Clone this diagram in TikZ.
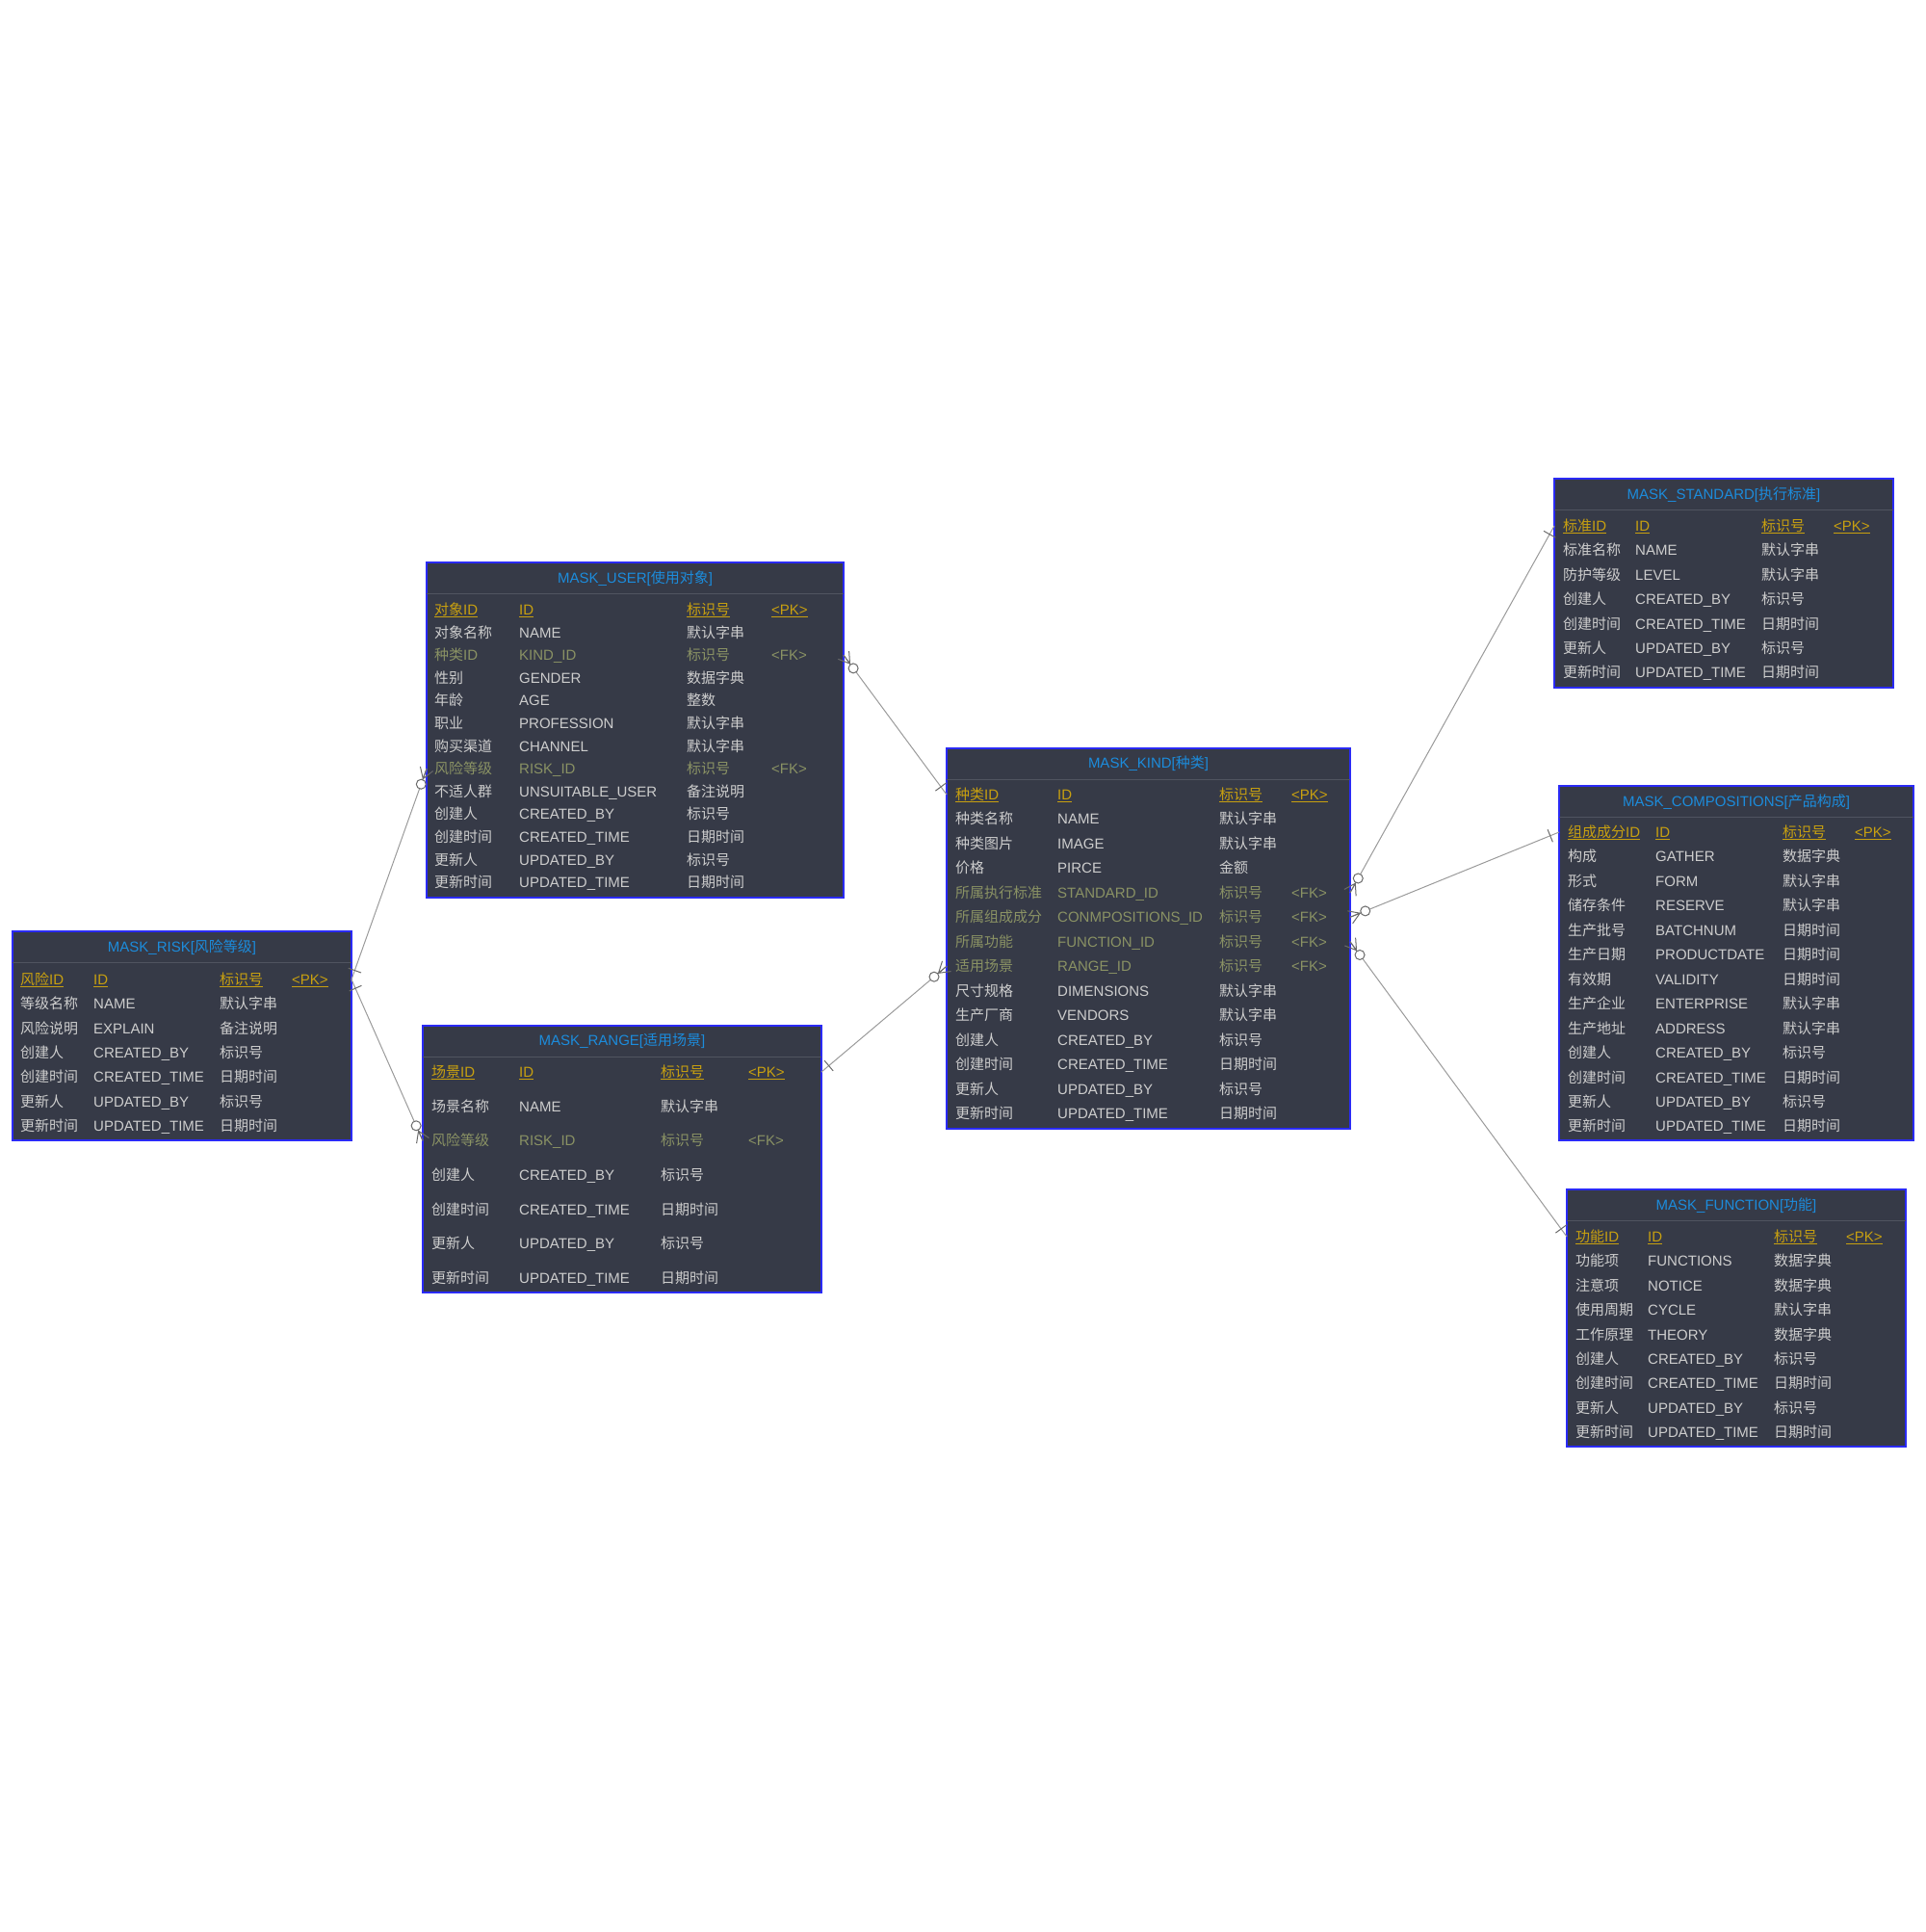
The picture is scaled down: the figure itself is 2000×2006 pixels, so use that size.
\documentclass[tikz,border=0pt]{standalone}
\usepackage{fontspec}
\setmainfont{Liberation Sans}
\newfontfamily\latinfont{Liberation Sans}
\newfontfamily\cjkfont{Noto Sans CJK SC}
\usetikzlibrary{calc}

% ideographs are set in the CJK font, everything else in Liberation Sans
\newXeTeXintercharclass\cjkclass
\newcount\cjkcode
\cjkcode="4E00
\loop\ifnum\cjkcode<"A000
  \XeTeXcharclass\cjkcode=\cjkclass
  \advance\cjkcode by 1
\repeat
\XeTeXinterchartoks 0 \cjkclass = {\cjkfont}
\XeTeXinterchartoks 4095 \cjkclass = {\cjkfont}
\XeTeXinterchartoks \cjkclass 0 = {\latinfont}
\XeTeXinterchartokenstate=1

\definecolor{tblbg}{HTML}{363A47}
\definecolor{tblborder}{HTML}{2A2AF5}
\definecolor{ttltxt}{HTML}{1C8CDC}
\definecolor{pktxt}{HTML}{C8A010}
\definecolor{fktxt}{HTML}{8A9264}
\definecolor{rowtxt}{HTML}{CDCDCD}
\definecolor{sepgray}{HTML}{505460}
\definecolor{relgray}{HTML}{9A9A9A}
\definecolor{markgray}{HTML}{6A6A6A}

% zero-or-many end (at #1) and one end (at #1) of a relation towards #2
\newcommand\manyend[2]{%
  \draw[endmark] (#1) -- ($(#1)!11pt!(#2)$) -- ($(#1)!7pt!90:(#2)$)
    ($(#1)!11pt!(#2)$) -- ($(#1)!7pt!-90:(#2)$);
  \draw[endmark, fill=white] ($(#1)!17pt!(#2)$) circle (5pt);}
\newcommand\oneend[2]{%
  \draw[endmark] ($(#1)!10pt!(#2)!7pt!90:(#2)$) -- ($(#1)!10pt!(#2)!7pt!-90:(#2)$);}

\begin{document}
\begin{tikzpicture}[x=1pt, y=-1pt,
    tbl/.style={draw=tblborder, line width=1.5pt, fill=tblbg, anchor=north west, inner sep=0pt, outer sep=0pt},
    ttl/.style={anchor=north, inner sep=0pt, outer sep=0pt, minimum height=32.5pt, text=ttltxt, font=\fontsize{15}{18}\selectfont},
    sepline/.style={draw=sepgray, line width=1.5pt},
    cell/.style={anchor=west, inner sep=0pt, text height=14pt, text depth=3pt, font=\fontsize{15}{18}\selectfont},
    plainrow/.style={cell, text=rowtxt},
    fkrow/.style={cell, text=fktxt},
    pkrow/.style={cell, text=pktxt, append after command={([yshift=1pt]\tikzlastnode.south west) edge[draw=pktxt, line width=1pt] ([yshift=1pt]\tikzlastnode.south east)}},
    rel/.style={draw=relgray, line width=1pt},
    endmark/.style={draw=markgray, line width=1pt}]
\useasboundingbox (0,0) rectangle (2000,2006);

% MASK_USER
\node[tbl, minimum width=433pt, minimum height=348pt] (user) at (443,584) {};
\node[ttl, minimum width=433pt] (user-t) at (user.north) {MASK\_USER[使用对象]};
\draw[sepline] (user-t.south west) -- (user-t.south east);
\foreach \f/\n/\k/\m/\s [count=\i from 0] in {对象ID/ID/标识号/<PK>/pkrow, 对象名称/NAME/默认字串//plainrow,
    种类ID/KIND\_ID/标识号/<FK>/fkrow, 性别/GENDER/数据字典//plainrow, 年龄/AGE/整数//plainrow,
    职业/PROFESSION/默认字串//plainrow, 购买渠道/CHANNEL/默认字串//plainrow, 风险等级/RISK\_ID/标识号/<FK>/fkrow,
    不适人群/UNSUITABLE\_USER/备注说明//plainrow, 创建人/CREATED\_BY/标识号//plainrow,
    创建时间/CREATED\_TIME/日期时间//plainrow, 更新人/UPDATED\_BY/标识号//plainrow, 更新时间/UPDATED\_TIME/日期时间//plainrow}{
  \node[\s] (user-f\i) at (451,633+23.6*\i) {\f};
  \node[\s] (user-n\i) at (539,633+23.6*\i) {\n};
  \node[\s] (user-k\i) at (713,633+23.6*\i) {\k};
  \node[\s] (user-m\i) at (801,633+23.6*\i) {\m};
}

% MASK_KIND
\node[tbl, minimum width=419pt, minimum height=395pt] (kind) at (983,777) {};
\node[ttl, minimum width=419pt] (kind-t) at (kind.north) {MASK\_KIND[种类]};
\draw[sepline] (kind-t.south west) -- (kind-t.south east);
\foreach \f/\n/\k/\m/\s [count=\i from 0] in {种类ID/ID/标识号/<PK>/pkrow, 种类名称/NAME/默认字串//plainrow,
    种类图片/IMAGE/默认字串//plainrow, 价格/PIRCE/金额//plainrow, 所属执行标准/STANDARD\_ID/标识号/<FK>/fkrow,
    所属组成成分/CONMPOSITIONS\_ID/标识号/<FK>/fkrow, 所属功能/FUNCTION\_ID/标识号/<FK>/fkrow,
    适用场景/RANGE\_ID/标识号/<FK>/fkrow, 尺寸规格/DIMENSIONS/默认字串//plainrow, 生产厂商/VENDORS/默认字串//plainrow,
    创建人/CREATED\_BY/标识号//plainrow, 创建时间/CREATED\_TIME/日期时间//plainrow,
    更新人/UPDATED\_BY/标识号//plainrow, 更新时间/UPDATED\_TIME/日期时间//plainrow}{
  \node[\s] (kind-f\i) at (992,825+25.46*\i) {\f};
  \node[\s] (kind-n\i) at (1098,825+25.46*\i) {\n};
  \node[\s] (kind-k\i) at (1266,825+25.46*\i) {\k};
  \node[\s] (kind-m\i) at (1341,825+25.46*\i) {\m};
}

% MASK_RISK
\node[tbl, minimum width=352pt, minimum height=217pt] (risk) at (13,967) {};
\node[ttl, minimum width=352pt] (risk-t) at (risk.north) {MASK\_RISK[风险等级]};
\draw[sepline] (risk-t.south west) -- (risk-t.south east);
\foreach \f/\n/\k/\m/\s [count=\i from 0] in {风险ID/ID/标识号/<PK>/pkrow, 等级名称/NAME/默认字串//plainrow,
    风险说明/EXPLAIN/备注说明//plainrow, 创建人/CREATED\_BY/标识号//plainrow, 创建时间/CREATED\_TIME/日期时间//plainrow,
    更新人/UPDATED\_BY/标识号//plainrow, 更新时间/UPDATED\_TIME/日期时间//plainrow}{
  \node[\s] (risk-f\i) at (21,1017+25.3*\i) {\f};
  \node[\s] (risk-n\i) at (97,1017+25.3*\i) {\n};
  \node[\s] (risk-k\i) at (228,1017+25.3*\i) {\k};
  \node[\s] (risk-m\i) at (303,1017+25.3*\i) {\m};
}

% MASK_RANGE
\node[tbl, minimum width=414pt, minimum height=277pt] (range) at (439,1065) {};
\node[ttl, minimum width=414pt] (range-t) at (range.north) {MASK\_RANGE[适用场景]};
\draw[sepline] (range-t.south west) -- (range-t.south east);
\foreach \f/\n/\k/\m/\s [count=\i from 0] in {场景ID/ID/标识号/<PK>/pkrow, 场景名称/NAME/默认字串//plainrow,
    风险等级/RISK\_ID/标识号/<FK>/fkrow, 创建人/CREATED\_BY/标识号//plainrow, 创建时间/CREATED\_TIME/日期时间//plainrow,
    更新人/UPDATED\_BY/标识号//plainrow, 更新时间/UPDATED\_TIME/日期时间//plainrow}{
  \node[\s] (range-f\i) at (448,1113+35.67*\i) {\f};
  \node[\s] (range-n\i) at (539,1113+35.67*\i) {\n};
  \node[\s] (range-k\i) at (686,1113+35.67*\i) {\k};
  \node[\s] (range-m\i) at (777,1113+35.67*\i) {\m};
}

% MASK_STANDARD
\node[tbl, minimum width=352pt, minimum height=217pt] (std) at (1614,497) {};
\node[ttl, minimum width=352pt] (std-t) at (std.north) {MASK\_STANDARD[执行标准]};
\draw[sepline] (std-t.south west) -- (std-t.south east);
\foreach \f/\n/\k/\m/\s [count=\i from 0] in {标准ID/ID/标识号/<PK>/pkrow, 标准名称/NAME/默认字串//plainrow,
    防护等级/LEVEL/默认字串//plainrow, 创建人/CREATED\_BY/标识号//plainrow, 创建时间/CREATED\_TIME/日期时间//plainrow,
    更新人/UPDATED\_BY/标识号//plainrow, 更新时间/UPDATED\_TIME/日期时间//plainrow}{
  \node[\s] (std-f\i) at (1623,546+25.4*\i) {\f};
  \node[\s] (std-n\i) at (1698,546+25.4*\i) {\n};
  \node[\s] (std-k\i) at (1829,546+25.4*\i) {\k};
  \node[\s] (std-m\i) at (1904,546+25.4*\i) {\m};
}

% MASK_COMPOSITIONS
\node[tbl, minimum width=368pt, minimum height=368pt] (comp) at (1619,816) {};
\node[ttl, minimum width=368pt] (comp-t) at (comp.north) {MASK\_COMPOSITIONS[产品构成]};
\draw[sepline] (comp-t.south west) -- (comp-t.south east);
\foreach \f/\n/\k/\m/\s [count=\i from 0] in {组成成分ID/ID/标识号/<PK>/pkrow, 构成/GATHER/数据字典//plainrow,
    形式/FORM/默认字串//plainrow, 储存条件/RESERVE/默认字串//plainrow, 生产批号/BATCHNUM/日期时间//plainrow,
    生产日期/PRODUCTDATE/日期时间//plainrow, 有效期/VALIDITY/日期时间//plainrow, 生产企业/ENTERPRISE/默认字串//plainrow,
    生产地址/ADDRESS/默认字串//plainrow, 创建人/CREATED\_BY/标识号//plainrow, 创建时间/CREATED\_TIME/日期时间//plainrow,
    更新人/UPDATED\_BY/标识号//plainrow, 更新时间/UPDATED\_TIME/日期时间//plainrow}{
  \node[\s] (comp-f\i) at (1628,864+25.45*\i) {\f};
  \node[\s] (comp-n\i) at (1719,864+25.45*\i) {\n};
  \node[\s] (comp-k\i) at (1851,864+25.45*\i) {\k};
  \node[\s] (comp-m\i) at (1926,864+25.45*\i) {\m};
}

% MASK_FUNCTION
\node[tbl, minimum width=352pt, minimum height=267pt] (func) at (1627,1235) {};
\node[ttl, minimum width=352pt] (func-t) at (func.north) {MASK\_FUNCTION[功能]};
\draw[sepline] (func-t.south west) -- (func-t.south east);
\foreach \f/\n/\k/\m/\s [count=\i from 0] in {功能ID/ID/标识号/<PK>/pkrow, 功能项/FUNCTIONS/数据字典//plainrow,
    注意项/NOTICE/数据字典//plainrow, 使用周期/CYCLE/默认字串//plainrow, 工作原理/THEORY/数据字典//plainrow,
    创建人/CREATED\_BY/标识号//plainrow, 创建时间/CREATED\_TIME/日期时间//plainrow,
    更新人/UPDATED\_BY/标识号//plainrow, 更新时间/UPDATED\_TIME/日期时间//plainrow}{
  \node[\s] (func-f\i) at (1636,1284+25.4*\i) {\f};
  \node[\s] (func-n\i) at (1711,1284+25.4*\i) {\n};
  \node[\s] (func-k\i) at (1842,1284+25.4*\i) {\k};
  \node[\s] (func-m\i) at (1917,1284+25.4*\i) {\m};
}

% relations: foreign key row -> primary key row
\coordinate (userkind) at (user.east |- user-f2);
\coordinate (userrisk) at (user.west |- user-f7);
\coordinate (rangerisk) at (range.west |- range-f2);
\coordinate (kindstd) at (kind.east |- kind-f4);
\coordinate (kindcomp) at (kind.east |- kind-f5);
\coordinate (kindfunc) at (kind.east |- kind-f6);
\coordinate (kindrange) at (kind.west |- kind-f7);
\coordinate (kindpk) at (kind.west |- kind-f0);
\coordinate (riskpk) at (risk.east |- risk-f0);
\coordinate (rangepk) at (range.east |- range-f0);
\coordinate (stdpk) at (std.west |- std-f0);
\coordinate (comppk) at (comp.west |- comp-f0);
\coordinate (funcpk) at (func.west |- func-f0);

\draw[rel] (userkind) -- (kindpk);
\draw[rel] (userrisk) -- (riskpk);
\draw[rel] (rangerisk) -- (riskpk);
\draw[rel] (kindrange) -- (rangepk);
\draw[rel] (kindstd) -- (stdpk);
\draw[rel] (kindcomp) -- (comppk);
\draw[rel] (kindfunc) -- (funcpk);

\manyend{userkind}{kindpk}   \oneend{kindpk}{userkind}
\manyend{userrisk}{riskpk}   \oneend{riskpk}{userrisk}
\manyend{rangerisk}{riskpk}  \oneend{riskpk}{rangerisk}
\manyend{kindrange}{rangepk} \oneend{rangepk}{kindrange}
\manyend{kindstd}{stdpk}     \oneend{stdpk}{kindstd}
\manyend{kindcomp}{comppk}   \oneend{comppk}{kindcomp}
\manyend{kindfunc}{funcpk}   \oneend{funcpk}{kindfunc}
\end{tikzpicture}
\end{document}
